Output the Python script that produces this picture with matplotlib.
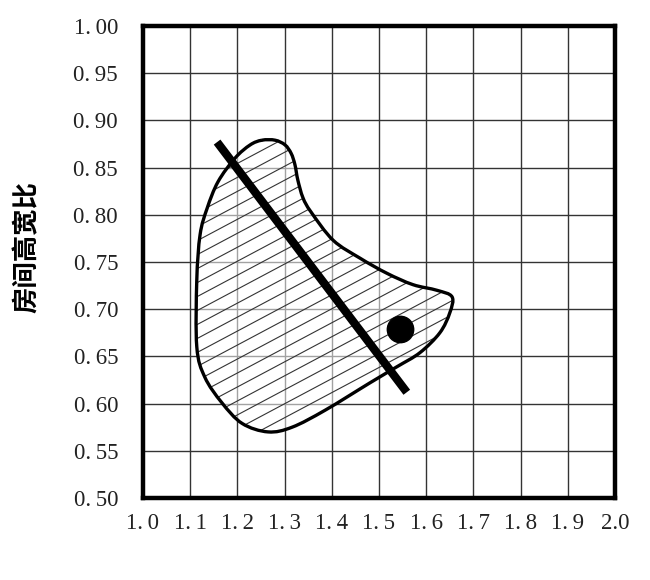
import matplotlib
matplotlib.use("Agg")
import matplotlib.pyplot as plt
import numpy as np
from matplotlib.path import Path
from matplotlib.patches import PathPatch

# axis ticks
x_ticks = [1.0, 1.1, 1.2, 1.3, 1.4, 1.5, 1.6, 1.7, 1.8, 1.9, 2.0]
x_labels = ["1.\u20090", "1.\u20091", "1.\u20092", "1.\u20093", "1.\u20094", "1.\u20095",
            "1.\u20096", "1.\u20097", "1.\u20098", "1.\u20099", "2.0"]
y_ticks = [0.50, 0.55, 0.60, 0.65, 0.70, 0.75, 0.80, 0.85, 0.90, 0.95, 1.00]
y_labels = ["0.\u200950", "0.\u200955", "0.\u200960", "0.\u200965", "0.\u200970", "0.\u200975",
            "0.\u200980", "0.\u200985", "0.\u200990", "0.\u200995", "1.\u200900"]
y_title = "房间高宽比"

# outline of the recommended region, clockwise from the top
region_x = [1.252, 1.280, 1.301, 1.314, 1.322, 1.328, 1.339, 1.356, 1.403, 1.460,
            1.517, 1.572, 1.623, 1.655, 1.650, 1.629, 1.587, 1.538, 1.481, 1.386,
            1.316, 1.265, 1.210, 1.167, 1.131, 1.114, 1.114, 1.121, 1.136, 1.159,
            1.195, 1.227]
region_y = [0.879, 0.879, 0.874, 0.865, 0.853, 0.837, 0.818, 0.803, 0.773, 0.754,
            0.738, 0.726, 0.720, 0.713, 0.696, 0.675, 0.654, 0.639, 0.622, 0.593,
            0.575, 0.570, 0.579, 0.601, 0.628, 0.660, 0.731, 0.779, 0.807, 0.835,
            0.860, 0.874]

# thick trend line and the single marked point
trend_x = [1.157, 1.559]
trend_y = [0.877, 0.612]
point_x = [1.545]
point_y = [0.679]


def smooth_closed_path(xs, ys):
    # closed Catmull-Rom outline written as cubic Bezier segments
    pts = np.column_stack([xs, ys])
    n = len(pts)
    verts = [pts[0]]
    codes = [Path.MOVETO]
    for i in range(n):
        p0, p1, p2, p3 = pts[i - 1], pts[i], pts[(i + 1) % n], pts[(i + 2) % n]
        c1 = p1 + (p2 - p0) / 6.0
        c2 = p2 - (p3 - p1) / 6.0
        verts += [c1, c2, p2]
        codes += [Path.CURVE4] * 3
    return Path(verts, codes)


fig = plt.figure(figsize=(6.5, 5.8), dpi=100)
ax = fig.add_axes([0.22, 0.1414, 0.726, 0.8138])
ax.set_xlim(1.0, 2.0)
ax.set_ylim(0.5, 1.0)

ax.set_xticks(x_ticks)
ax.set_xticklabels(x_labels)
ax.set_yticks(y_ticks)
ax.set_yticklabels(y_labels)
ax.tick_params(length=0, labelsize=16.5)
ax.tick_params(axis="y", pad=18)
ax.tick_params(axis="x", pad=11)
for lab in ax.get_xticklabels() + ax.get_yticklabels():
    lab.set_fontfamily(["Liberation Serif", "DejaVu Serif"])
    lab.set_color("#222222")

ax.grid(True, color="#333333", linewidth=1.0)
ax.set_axisbelow(True)
for sp in ax.spines.values():
    sp.set_linewidth(3.2)
    sp.set_zorder(10)

path = smooth_closed_path(region_x, region_y)
fill = PathPatch(path, facecolor="white", alpha=0.55, edgecolor="none", zorder=2)
ax.add_patch(fill)
outline = PathPatch(path, facecolor="none", edgecolor="black", linewidth=2.4, zorder=4)
ax.add_patch(outline)

# diagonal hatching clipped to the region
slope = 0.266
for c in np.arange(0.15, 0.95, 0.0148):
    hx = np.array([1.0, 2.0])
    ln, = ax.plot(hx, c + slope * (hx - 1.0), color="#333333", linewidth=0.8, zorder=3)
    ln.set_clip_path(fill)

ax.plot(trend_x, trend_y, color="black", linewidth=6, solid_capstyle="butt", zorder=5)
ax.plot(point_x, point_y, "o", color="black", markersize=19, zorder=6)

fig.text(27 / 650, 1 - 247 / 580, y_title, rotation=90, ha="center", va="center",
         fontsize=19, fontweight="bold", family=["Noto Sans CJK SC", "DejaVu Sans"])

fig.savefig("out.png", dpi=100)
